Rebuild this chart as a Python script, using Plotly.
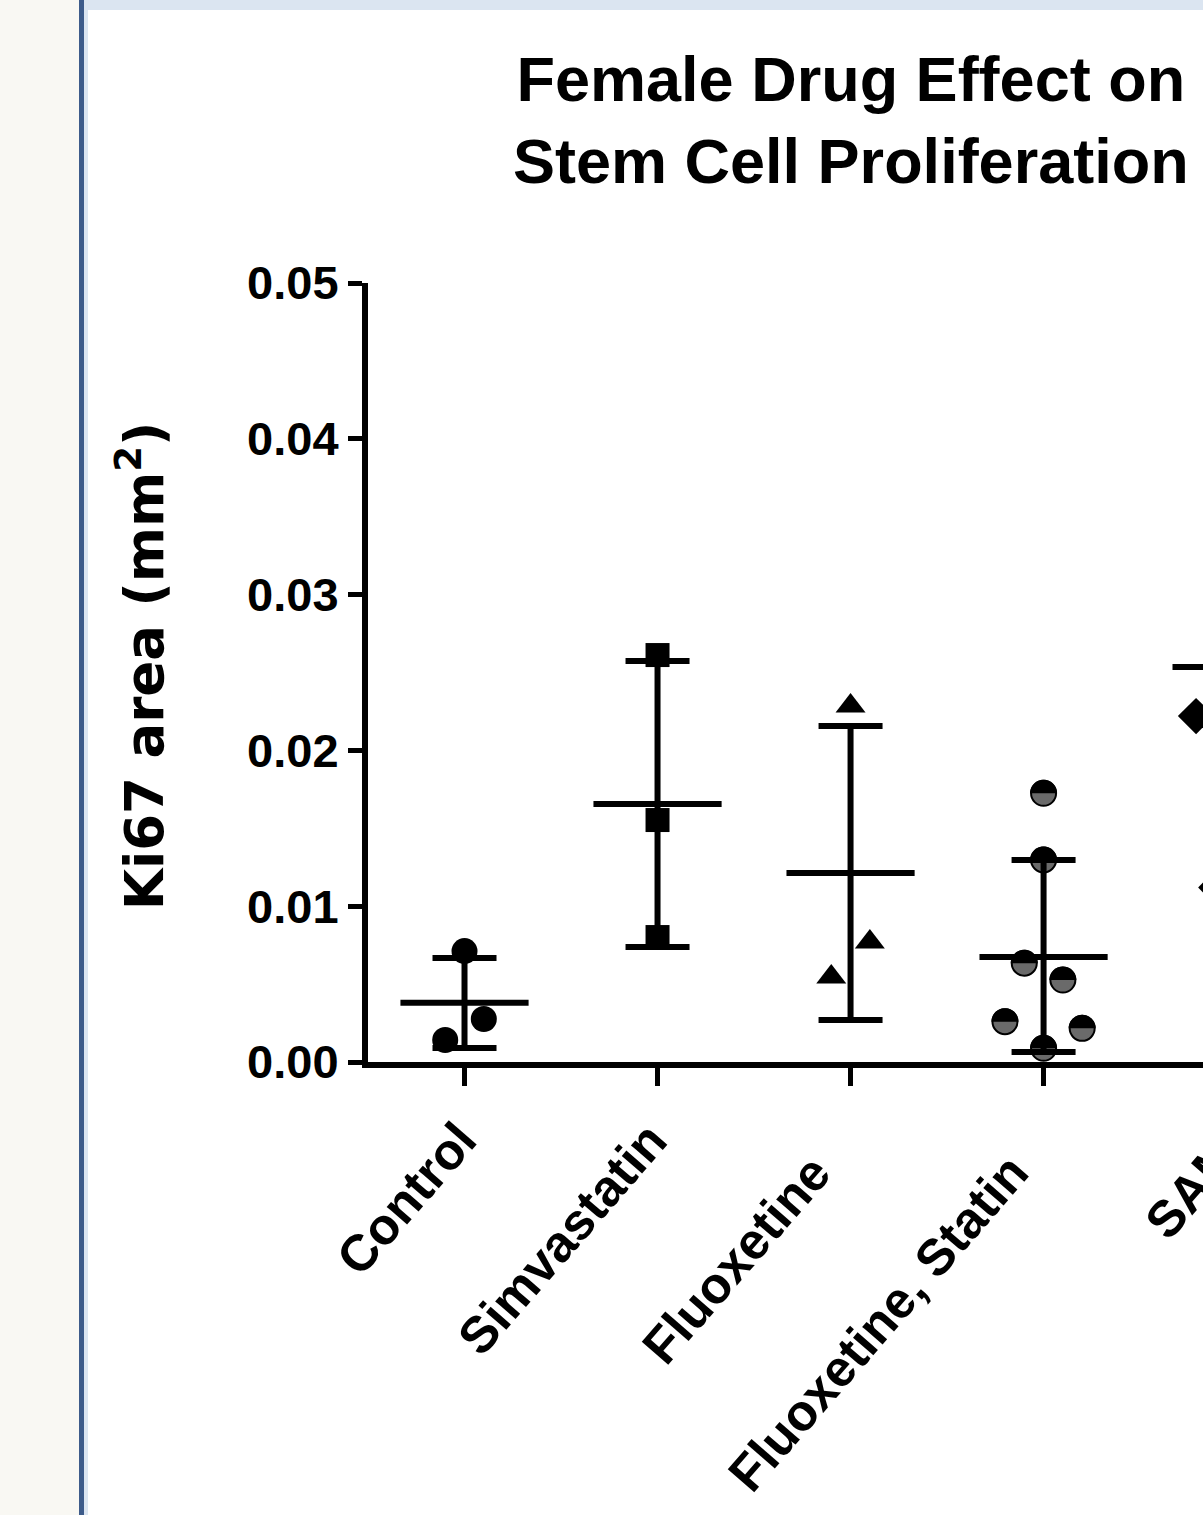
import math
import plotly.graph_objects as go

# ---------------- data ----------------
categories = ["Control", "Simvastatin", "Fluoxetine", "Fluoxetine, Statin", "SAMe"]

control_vals = [0.00712, 0.00276, 0.00141]
control_jit = [0.0, 0.10, -0.10]

simva_vals = [0.02612, 0.01553, 0.00802]
simva_jit = [0.0, 0.0, 0.0]

fluox_vals = [0.02285, 0.00770, 0.00546]
fluox_jit = [0.0, 0.10, -0.10]

fs_vals = [0.01725, 0.01297, 0.00634, 0.00526, 0.00259, 0.00216, 0.00088]
fs_jit = [0.0, 0.0, -0.10, 0.10, -0.20, 0.20, 0.0]

same_vals = [0.0222, 0.0112]
same_jit = [-0.21, -0.105]

means = [0.00381, 0.01656, 0.01213, 0.00674, 0.02535]
sd_upper = [0.00668, 0.02574, 0.02157, 0.01297, 0.0365]
sd_lower = [0.00090, 0.00738, 0.00270, 0.00064, 0.0142]

y_tick_vals = [0.00, 0.01, 0.02, 0.03, 0.04, 0.05]

title_text = "Female Drug Effect on<br>Stem Cell Proliferation"
y_title = "Ki67 area (mm<sup>2</sup>)"

# ---------------- layout geometry ----------------
W, H = 1203, 1515
ML, MR, MT, MB = 368, 0, 283, 453
PW = W - ML - MR
PH = H - MT - MB
CAT_PX = PW / 4.326  # pixels per category

# where each rotated category label ends (right edge / top of its box), in page pixels
label_shift = [(26, 47), (23, 47), (-6, 80), (-1, 79), (36, 40)]


def px_x(px):
    return (px - ML) / PW


def px_y(py):
    return 1 - (py - MT) / PH


ARIAL = "Liberation Sans, Arial, sans-serif"
WIDE = "DejaVu Sans, Verdana, sans-serif"

fig = go.Figure()

groups = [
    (0, control_vals, control_jit, "circle", 26, "black"),
    (1, simva_vals, simva_jit, "square", 24, "black"),
    (2, fluox_vals, fluox_jit, "triangle-up", 26, "black"),
    (3, fs_vals, fs_jit, "circle", 25, "#6a6a6a"),
    (4, same_vals, same_jit, "diamond", 28, "black"),
]
for idx, vals, jit, sym, size, col in groups:
    fig.add_trace(go.Scatter(
        x=[idx + j for j in jit], y=vals, mode="markers",
        marker=dict(symbol=sym, size=size, color=col,
                    line=dict(color="black", width=2 if idx == 3 else 0)),
        showlegend=False, hoverinfo="y", cliponaxis=True,
    ))

# mean +/- SD
fig.add_trace(go.Scatter(
    x=list(range(len(means))), y=means, mode="markers",
    marker=dict(size=1, color="rgba(0,0,0,0)"),
    error_y=dict(type="data", symmetric=False,
                 array=[u - m for u, m in zip(sd_upper, means)],
                 arrayminus=[m - l for m, l in zip(means, sd_lower)],
                 thickness=6, width=32, color="black"),
    error_x=dict(type="constant", value=0.332, thickness=6, width=0, color="black"),
    showlegend=False, hoverinfo="skip", cliponaxis=True,
))

# upper halves of the two-tone circles
R = 13.5
pts = [(R * math.cos(t * math.pi / 24), R * math.sin(t * math.pi / 24)) for t in range(25)]
half_path = "M " + " L ".join(f"{x:.2f},{y:.2f}" for x, y in pts) + " Z"
shapes = []
for v, j in zip(fs_vals, fs_jit):
    shapes.append(dict(type="path", xref="x", yref="y", xsizemode="pixel", ysizemode="pixel",
                       xanchor=3 + j, yanchor=v, path=half_path,
                       fillcolor="black", line=dict(width=0), layer="above"))

# page frame (outer decoration)
shapes += [
    dict(type="rect", xref="paper", yref="paper", x0=px_x(0), x1=px_x(79), y0=px_y(H), y1=px_y(0),
         fillcolor="#f9f8f3", line=dict(width=0), layer="below"),
    dict(type="rect", xref="paper", yref="paper", x0=px_x(79), x1=px_x(84), y0=px_y(H), y1=px_y(0),
         fillcolor="#3d5b8a", line=dict(width=0), layer="below"),
    dict(type="rect", xref="paper", yref="paper", x0=px_x(84), x1=px_x(88), y0=px_y(H), y1=px_y(0),
         fillcolor="#dbe5f1", line=dict(width=0), layer="below"),
    dict(type="rect", xref="paper", yref="paper", x0=px_x(84), x1=px_x(W), y0=px_y(10), y1=px_y(0),
         fillcolor="#dbe5f1", line=dict(width=0), layer="below"),
]

annotations = [
    dict(text=title_text, xref="paper", yref="paper", x=px_x(851), y=px_y(42),
         xanchor="center", yanchor="top", showarrow=False, align="center",
         font=dict(family=ARIAL, size=63, color="black", weight="bold")),
    dict(text=y_title, xref="paper", yref="paper", x=px_x(141), y=px_y(666),
         xanchor="center", yanchor="middle", showarrow=False, textangle=-90,
         font=dict(family=WIDE, size=53, color="black", weight="bold")),
]
# rotated category labels (the fifth one is cut by the right edge, as in the source)
axis_px = MT + PH
for i, name in enumerate(categories):
    tick_px = ML + (i + 0.5) * CAT_PX
    dx, dy = label_shift[i]
    annotations.append(dict(
        text=name, xref="paper", yref="paper", x=px_x(tick_px + dx), y=px_y(axis_px + dy),
        xanchor="right", yanchor="top", showarrow=False, textangle=-49,
        font=dict(family=ARIAL, size=51, color="black", weight="bold")))

fig.update_layout(
    width=W, height=H,
    margin=dict(l=ML, r=MR, t=MT, b=MB, pad=0),
    paper_bgcolor="white", plot_bgcolor="white",
    shapes=shapes, annotations=annotations,
    xaxis=dict(range=[-0.5, 3.826], tickmode="array", tickvals=list(range(4)),
               showticklabels=False, ticks="outside", ticklen=18, tickwidth=5,
               tickcolor="black", showline=True, linewidth=6, linecolor="black",
               showgrid=False, zeroline=False),
    yaxis=dict(range=[0, 0.05], tickmode="array", tickvals=y_tick_vals,
               ticktext=[f"{v:.2f}" for v in y_tick_vals], ticks="outside", ticklen=14,
               tickwidth=5, tickcolor="black", showline=True, linewidth=6, linecolor="black",
               showgrid=False, zeroline=False, ticklabelstandoff=0,
               tickfont=dict(family=ARIAL, size=47, color="black", weight="bold")),
)

fig.write_html("out.html", config={"displayModeBar": False},
               post_script="document.body.style.margin='0';document.body.style.padding='0';"
                           "document.body.style.overflow='hidden';")
